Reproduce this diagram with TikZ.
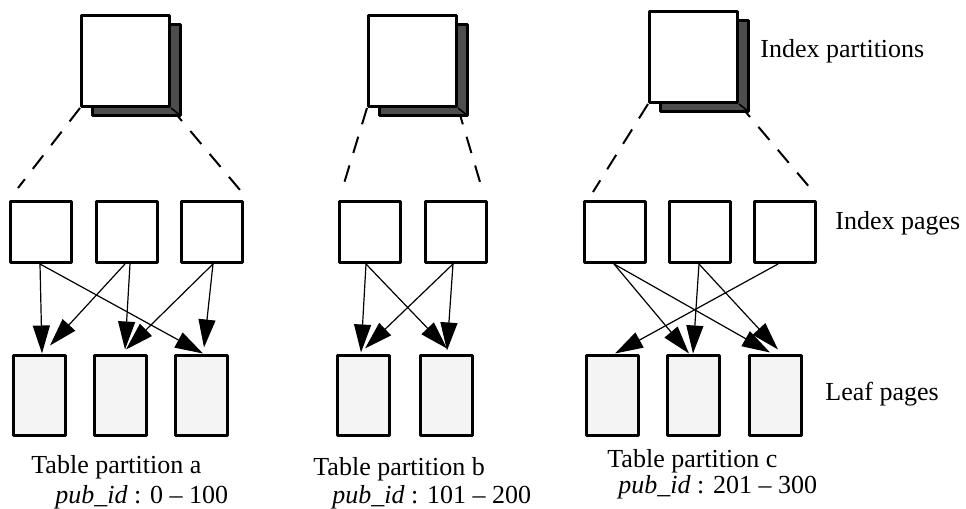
\documentclass[tikz,border=0pt]{standalone}
\usepackage{fontspec}
\setmainfont{Liberation Serif}
\usetikzlibrary{arrows.meta,shadows,backgrounds}
\definecolor{shgray}{HTML}{4D4D4D}
\definecolor{leafgray}{HTML}{F4F4F4}
\tikzset{
	ipart/.style={draw,line width=1.5pt,fill=white,inner sep=0pt,minimum width=44pt,minimum height=45.5pt,
		general shadow={shadow xshift=5.5pt,shadow yshift=-4.25pt,draw=black,fill=shgray,line width=1.5pt}},
	ipage/.style={draw,line width=1.5pt,fill=white,inner sep=0pt,minimum size=30.5pt},
	lpage/.style={draw,line width=1.5pt,fill=leafgray,inner sep=0pt,minimum width=26pt,minimum height=40pt},
	link/.style={line width=0.6pt,-{Triangle[length=14pt,width=8.5pt]}},
	split/.style={line width=1pt,dash pattern=on 8.5pt off 6.5pt},
	lbl/.style={anchor=base west,inner sep=0pt}
}
\begin{document}
\begin{tikzpicture}[x=0.5pt,y=-0.5pt,line join=round,font=\fontsize{13}{15}\selectfont]
		\useasboundingbox (0,0) rectangle (966,509);
		%==Index partitions, index pages, leaf pages
		\foreach \n/\x/\y in {ta/125.5/61,tb/412.5/61,tc/693.5/57}{\node[ipart] (\n) at (\x,\y) {};
			\draw[line width=0.8pt] (\n.south east)--++(9.5,7.5);}
		\foreach \n/\x in {ipa1/41,ipa2/126.5,ipa3/211.5,ipb1/369.5,ipb2/455.5,ipc1/614.5,ipc2/699.5,ipc3/784.5}\node[ipage] (\n) at (\x,232) {};
		\foreach \n/\x in {lfa1/39,lfa2/120,lfa3/201.5,lfb1/363,lfb2/446,lfc1/612.5,lfc2/693.5,lfc3/775.5}\node[lpage] (\n) at (\x,395) {};
		%==Dashed fans
		\begin{scope}[on background layer]
		\draw[split] (ta.south west)--++(-62,80);
		\draw[split] (ta.south east)--++(69,82);
		\draw[split] (tb.south west)--++(-25,82);
		\draw[split] (tb.south east)--++(25,84);
		\draw[split] (tc.south west)--++(-55,88);
		\draw[split] (tc.south east)--++(72,85);
		\end{scope}
		%==Links
		\foreach \s/\a/\t/\b/\c in {ipa1/-1/lfa1/3/0,ipa1/-1/lfa3/1.5/0,ipa2/-1.5/lfa1/11/-8,ipa2/3.5/lfa2/5/-4,ipa3/1.5/lfa2/6/-4,ipa3/1.5/lfa3/2.5/-6,
			ipb1/-3.5/lfb1/-2/-1,ipb1/-3.5/lfb2/1/-5,ipb2/-2.5/lfb1/2/-5,ipb2/-2.5/lfb2/1/-3,
			ipc1/-0.5/lfc2/-4.5/0,ipc1/-0.5/lfc3/-5.5/-1,ipc2/-0.5/lfc2/-0.5/0,ipc2/-0.5/lfc3/2.5/-4,ipc3/-6.5/lfc1/2.5/0}
		\draw[link] ([shift={(\a,0)}]\s.south)--([shift={(\b,\c)}]\t.north);
		%==Labels
		\node[lbl] (tpa) at (31,473) {Table partition a};
		\node[lbl] (pida) at (55,503) {\textit{pub\_id} : 0 – 100};
		\node[lbl] (tpb) at (313,475) {Table partition b};
		\node[lbl] (pidb) at (332,503) {\textit{pub\_id} : 101 – 200};
		\node[lbl] (tpc) at (607,467) {Table partition c};
		\node[lbl] (pidc) at (618,493) {\textit{pub\_id} : 201 – 300};
		\node[lbl] (lip) at (760,57) {Index partitions};
		\node[lbl] (lipg) at (835,229) {Index pages};
		\node[lbl] (llf) at (825,400) {Leaf pages};
\end{tikzpicture}
\end{document}
